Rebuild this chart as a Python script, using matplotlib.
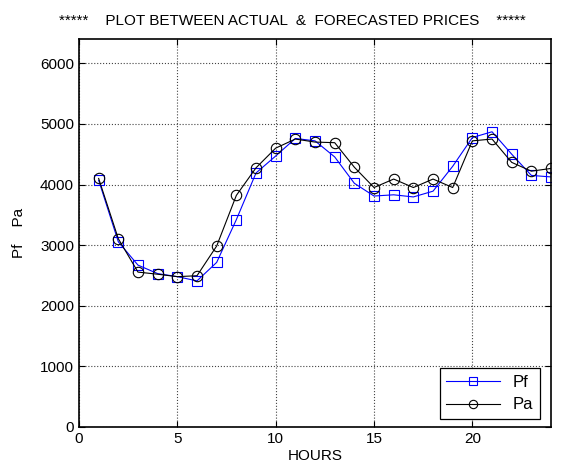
import matplotlib
matplotlib.use("Agg")
import matplotlib.pyplot as plt

plt.rcParams['font.family'] = ['Liberation Sans', 'DejaVu Sans']

hours = list(range(1, 25))
pf = [4070, 3055, 2670, 2530, 2480, 2410, 2715, 3420, 4190, 4470, 4760, 4720,
      4455, 4020, 3810, 3830, 3795, 3890, 4300, 4775, 4870, 4500, 4150, 4125]
pa = [4100, 3105, 2555, 2520, 2480, 2495, 2985, 3820, 4275, 4600, 4750, 4700,
      4690, 4285, 3950, 4090, 3950, 4090, 3950, 4720, 4750, 4365, 4220, 4265]

fig = plt.figure(figsize=(5.74, 4.73), dpi=100)
ax = fig.add_axes([0.1376, 0.0973, 0.8224, 0.8202])

ax.plot(hours, pf, color='blue', marker='s', markersize=7.5, markerfacecolor='none',
        markeredgecolor='blue', linewidth=0.8, markeredgewidth=0.8, label='Pf')
ax.plot(hours, pa, color='black', marker='o', markersize=7.5, markerfacecolor='none',
        markeredgecolor='black', linewidth=0.8, markeredgewidth=0.8, label='Pa')

ax.set_xlim(0, 24)
ax.set_ylim(0, 6400)
ax.set_xticks([0, 5, 10, 15, 20])
ax.set_yticks([0, 1000, 2000, 3000, 4000, 5000, 6000])
ax.tick_params(direction='in', top=True, right=True, labelsize=11, length=4)
ax.grid(True, linestyle=':', color='#444444', linewidth=0.8)
for s in ax.spines.values():
    s.set_linewidth(1.2)

ax.set_xlabel('HOURS', fontsize=11, labelpad=2)
ax.set_ylabel('Pf    Pa', fontsize=11, labelpad=10)
fig.text(0.51, 0.955, '*****    PLOT BETWEEN ACTUAL  &  FORECASTED PRICES    *****',
         ha='center', va='center', fontsize=11)

leg = ax.legend(loc='lower right', fontsize=12, fancybox=False, framealpha=1,
                edgecolor='black', borderaxespad=0, handlelength=3.2,
                markerscale=0.8, labelspacing=0.45,
                bbox_to_anchor=(540 / 574, (473 - 419) / 473),
                bbox_transform=fig.transFigure)
leg.get_frame().set_linewidth(0.9)

fig.savefig('out.png', dpi=100)
